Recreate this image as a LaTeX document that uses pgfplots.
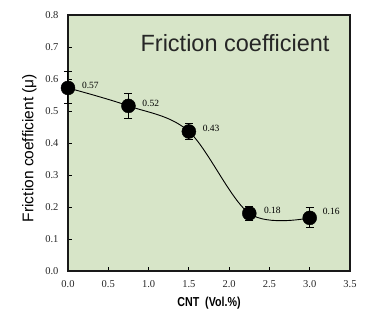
\documentclass[border=0pt]{standalone}
\usepackage{pgfplots}
\pgfplotsset{compat=1.18}
\usepackage{fontspec}
\setmainfont{Liberation Serif}
\newfontfamily\arial{Liberation Sans}
\definecolor{bg}{HTML}{D7E5C8}
\begin{document}
\begin{tikzpicture}[x=1pt,y=1pt]
\useasboundingbox (-68,-58) rectangle (299,271);
\begin{axis}[
  at={(0,0)}, anchor=south west,
  scale only axis, width=282pt, height=256pt,
  xmin=0, xmax=3.5, ymin=0, ymax=0.8,
  xtick={0,0.5,...,3.5}, ytick={0,0.1,...,0.8},
  xticklabel style={/pgf/number format/.cd,fixed,fixed zerofill,precision=1},
  yticklabel style={/pgf/number format/.cd,fixed,fixed zerofill,precision=1},
  /pgf/number format/assume math mode=true,
  tick label style={font=\fontsize{10.5}{12}\selectfont, color=black!85},
  xticklabel shift=6pt, yticklabel shift=6pt,
  tick align=inside, tick pos=left, major tick length=4pt,
  tick style={black, line width=0.8pt},
  axis line style={line width=1.3pt, black!90},
  axis background/.style={fill=bg},
  clip=false,
  xlabel={\scalebox{0.82}[1]{\bfseries CNT\ \ (Vol.\%)}},
  xlabel style={font=\arial\fontsize{13}{15}\selectfont, yshift=-3pt},
  ylabel={Friction coefficient (μ)},
  ylabel style={font=\arial\fontsize{15.5}{17}\selectfont, yshift=2pt, xshift=-5pt},
]
\addplot[black, line width=0.9pt, smooth, tension=0.55] coordinates {
 (0,0.572) (0.75,0.516) (1.5,0.436) (2.25,0.180) (3.0,0.166)};
\addplot[only marks, mark=*, mark size=7pt, black,
  error bars/.cd, y dir=both, y explicit,
  error bar style={line width=1pt}, error mark options={rotate=90, mark size=4pt, line width=1pt}]
 coordinates {
 (0,0.572) +- (0,0.05)
 (0.75,0.516) +- (0,0.04)
 (1.5,0.436) +- (0,0.024)
 (2.25,0.180) +- (0,0.021)
 (3.0,0.166) +- (0,0.031)};
\node[anchor=west, font=\fontsize{9.5}{11}\selectfont] at (axis cs:0.13,0.58) {0.57};
\node[anchor=west, font=\fontsize{9.5}{11}\selectfont] at (axis cs:0.88,0.525) {0.52};
\node[anchor=west, font=\fontsize{9.5}{11}\selectfont] at (axis cs:1.63,0.445) {0.43};
\node[anchor=west, font=\fontsize{9.5}{11}\selectfont] at (axis cs:2.39,0.19) {0.18};
\node[anchor=west, font=\fontsize{9.5}{11}\selectfont] at (axis cs:3.12,0.187) {0.16};
\node[anchor=east, font=\arial\fontsize{23.5}{25}\selectfont, color=black!85] at (axis cs:3.29,0.713) {Friction coefficient};
\end{axis}
\end{tikzpicture}
\end{document}
